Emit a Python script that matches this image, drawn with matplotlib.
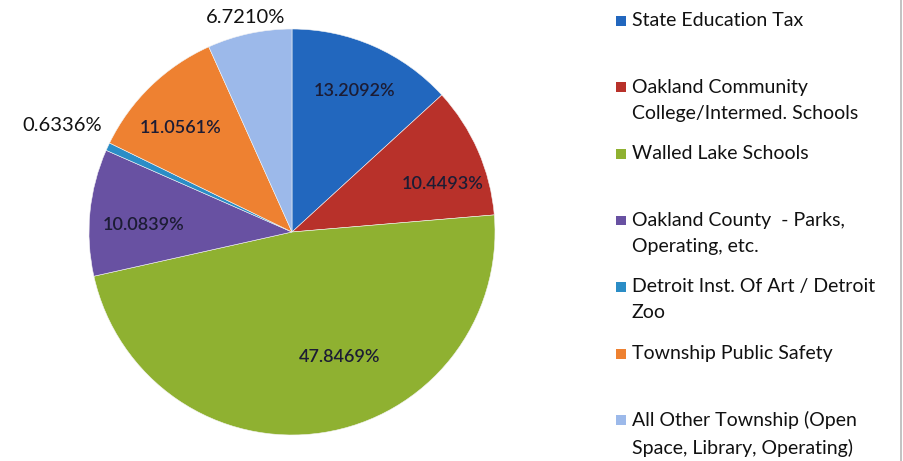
import numpy as np
import matplotlib
matplotlib.use('Agg')
import matplotlib.pyplot as plt
from matplotlib.patches import Rectangle

categories = [
    'State Education Tax',
    'Oakland Community\nCollege/Intermed. Schools',
    'Walled Lake Schools',
    'Oakland County  - Parks,\nOperating, etc.',
    'Detroit Inst. Of Art / Detroit\nZoo',
    'Township Public Safety',
    'All Other Township (Open\nSpace, Library, Operating)',
]
shares = [13.2092, 10.4493, 47.8469, 10.0839, 0.6336, 11.0561, 6.7210]
colors = ['#2267BE', '#B8312A', '#8FB131', '#6851A2', '#2B8DC6', '#EE8131', '#9CB9EA']

# label distance from centre (fraction of radius), outside ones for the thin slices
label_dist = [0.76, 0.78, 0.66, 0.73, 1.25, 0.75, 1.08]
label_nudge = [0, -6, 12, 3, 0, 3, 0]  # degrees

plt.rcParams['font.family'] = ['Lato', 'DejaVu Sans']

W, H = 904, 461
fig = plt.figure(figsize=(W / 100, H / 100), dpi=100)

cx, cy, r = 292, 232, 203
ax = fig.add_axes([(cx - r) / W, (H - cy - r) / H, 2 * r / W, 2 * r / H])
wedges, _ = ax.pie(shares, colors=colors, startangle=90, counterclock=False,
                   radius=1.0, wedgeprops=dict(edgecolor='#f4f4f4', linewidth=0.4))
ax.set_xlim(-1, 1)
ax.set_ylim(-1, 1)
ax.set_aspect('equal')
ax.axis('off')

for w, val, d, nudge in zip(wedges, shares, label_dist, label_nudge):
    ang = np.deg2rad((w.theta1 + w.theta2) / 2 + nudge)
    x, y = d * np.cos(ang), d * np.sin(ang)
    if d > 1:
        ax.text(x, y, f'{val:.4f}%', ha='center', va='center', fontsize=14.5,
                color='#111111', clip_on=False)
    else:
        ax.text(x, y, f'{val:.4f}%', ha='center', va='center', fontsize=13,
                fontweight='semibold', color='#1c1c34')

# legend, fixed slot height like the original
top = 12
slot = 66.5
for i, (lab, col) in enumerate(zip(categories, colors)):
    ytop = top + i * slot
    fig.patches.append(Rectangle((616 / W, 1 - (ytop + 14) / H), 10 / W, 10 / H,
                                 transform=fig.transFigure, facecolor=col, edgecolor='none'))
    fig.text(632 / W, 1 - ytop / H, lab, ha='left', va='top', fontsize=14,
             color='#111111', linespacing=1.65)

# right edge border of the scanned page
fig.add_artist(plt.Line2D([901 / W, 901 / W], [0, 1], color='#b8b8b8', linewidth=1.2))

fig.savefig('out.png', dpi=100)
